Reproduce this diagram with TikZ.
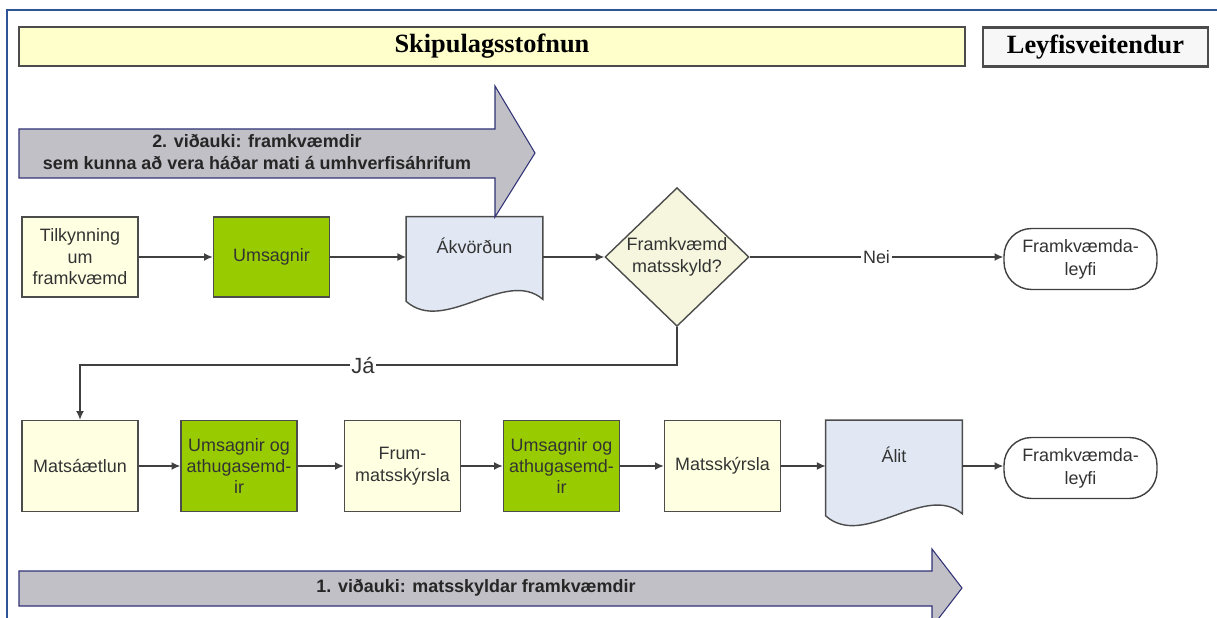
\documentclass[tikz,border=0pt]{standalone}
\usepackage{fontspec}
\setmainfont{Liberation Sans}
\newfontfamily\hdrfont{Liberation Serif}
\usepackage{tikz}
\usetikzlibrary{arrows.meta}
\usetikzlibrary{positioning,calc,backgrounds}
\usetikzlibrary{shapes.geometric}
\usepackage{xcolor}
\definecolor{hdryellow}{RGB}{255,255,204}
\definecolor{boxyellow}{RGB}{255,255,226}
\definecolor{boxgreen}{RGB}{153,204,0}
\definecolor{docblue}{RGB}{225,232,244}
\definecolor{decbeige}{RGB}{246,246,222}
\definecolor{arrowgray}{RGB}{192,192,198}
\definecolor{arrowline}{RGB}{50,50,120}
\definecolor{frameblue}{RGB}{46,84,150}
\definecolor{txtgray}{RGB}{51,51,51}
\tikzset{
  every node/.style={font=\fontsize{10.2}{12.2}\selectfont, text=txtgray}
}

\begin{document}
\begin{tikzpicture}[x=0.02cm, y=-0.02cm]
  \tikzset{
    hdrbox/.style={
      draw=black!70,
      line width=1.2pt,
      minimum height=0.78cm,
      font=\hdrfont\bfseries\fontsize{15}{17}\selectfont,
      text=black
    },
    procbox/.style={
      draw=black!70,
      line width=0.8pt,
      fill=boxyellow,
      minimum width=2.32cm,
      minimum height=1.6cm,
      inner sep=1pt,
      align=center
    },
    greenbox/.style={
      procbox,
      fill=boxgreen
    },
    docshape/.style={
      minimum width=2.72cm,
      minimum height=1.6cm,
      inner sep=0pt,
      text height=8pt,
      text depth=12pt
    },
    docline/.style={
      draw=black!70,
      line width=0.8pt,
      fill=docblue
    },
    decision/.style={
      diamond,
      draw=black!70,
      line width=0.8pt,
      fill=decbeige,
      minimum width=2.88cm,
      minimum height=2.72cm,
      inner sep=0pt,
      align=center
    },
    terminal/.style={
      rectangle,
      rounded corners=0.55cm,
      draw=black!75,
      line width=0.8pt,
      fill=white,
      minimum width=3.06cm,
      minimum height=1.22cm,
      inner sep=1pt,
      align=center,
      font=\fontsize{10.2}{13}\selectfont
    },
    bigarrow/.style={
      fill=arrowgray,
      draw=arrowline,
      line width=0.6pt
    },
    arrowtext/.style={
      font=\bfseries\fontsize{10.2}{13}\selectfont,
      text=black!85,
      align=center
    },
    conn/.style={
      draw=black!75,
      line width=0.8pt,
      -{Latex[length=5pt, width=4.5pt]}
    },
    lbl/.style={
      fill=white,
      inner sep=1pt
    }
  }

  \useasboundingbox (0,0) rectangle (1217,618);

  % Frame
  \draw[frameblue, line width=1.5pt] (1217,10) -- (7,10) -- (7,618);

  % Headers
  \node[hdrbox, fill=hdryellow, minimum width=18.92cm] (sks) at (492,46.5) {Skipulagsstofnun};
  \node[hdrbox, fill=black!3, minimum width=4.5cm] (lev) at (1095.5,47) {Leyfisveitendur};

  % Annex arrows
  \draw[bigarrow] (19,129) -- (495,129) -- (495,86) -- (535,153) -- (495,217) -- (495,178) -- (19,178) -- cycle;
  \node[arrowtext] (vid2) at (257,152) {2. viðauki: framkvæmdir\\sem kunna að vera háðar mati á umhverfisáhrifum};
  \draw[bigarrow] (19,571) -- (932,571) -- (932,549) -- (962,588) -- (932,627) -- (932,606) -- (19,606) -- cycle;
  \node[arrowtext] (vid1) at (476,588) {1. viðauki: matsskyldar framkvæmdir};

  % Nodes, first row
  \node[procbox] (til) at (80,257) {Tilkynning\\um\\framkvæmd};
  \node[greenbox] (ums1) at (271.5,257) {Umsagnir};
  \node[docshape] (akv) at (474.5,257) {Ákvörðun};
  \node[decision] (dec) at (677,257) {Framkvæmd\\matsskyld?};
  \node[terminal] (fl1) at (1080.5,259) {Framkvæmda-\\leyfi};

  % Nodes, second row
  \node[procbox, minimum height=1.82cm] (mat) at (80,466) {Matsáætlun};
  \node[greenbox, minimum height=1.82cm] (ums2) at (239,466) {Umsagnir og\\athugasemd-\\ir};
  \node[procbox, minimum height=1.82cm] (frum) at (402.5,466) {Frum-\\matsskýrsla};
  \node[greenbox, minimum height=1.82cm] (ums3) at (561.5,466) {Umsagnir og\\athugasemd-\\ir};
  \node[procbox, minimum height=1.82cm] (msk) at (722.5,466) {Matsskýrsla};
  \node[docshape, minimum height=1.82cm] (alit) at (894,466) {Álit};
  \node[terminal] (fl2) at (1080.5,468) {Framkvæmda-\\leyfi};

  % Document outlines
  \begin{scope}[on background layer]
    \draw[docline] (akv.north west) -- (akv.north east) -- ($(akv.south east)+(0,2)$)
      .. controls ($(akv.south east)+(-37,-30)$) and ($(akv.south west)+(38,38)$) .. ($(akv.south west)+(0,4)$) -- cycle;
    \draw[docline] (alit.north west) -- (alit.north east) -- ($(alit.south east)+(0,2)$)
      .. controls ($(alit.south east)+(-37,-30)$) and ($(alit.south west)+(38,38)$) .. ($(alit.south west)+(0,4)$) -- cycle;
  \end{scope}

  % Edges
  \draw[conn] (til) -- (ums1);
  \draw[conn] (ums1) -- (akv);
  \draw[conn] (akv) -- (dec);
  \draw[conn] (dec) -- node[lbl] {Nei} (dec -| fl1.west);
  \draw[conn] (dec.south) -- ++(0,38) -| node[lbl, pos=0.263, font=\fontsize{12.5}{14}\selectfont] {Já} (mat.north);
  \draw[conn] (mat) -- (ums2);
  \draw[conn] (ums2) -- (frum);
  \draw[conn] (frum) -- (ums3);
  \draw[conn] (ums3) -- (msk);
  \draw[conn] (msk) -- (alit);
  \draw[conn] (alit) -- (alit -| fl2.west);
\end{tikzpicture}
\end{document}
